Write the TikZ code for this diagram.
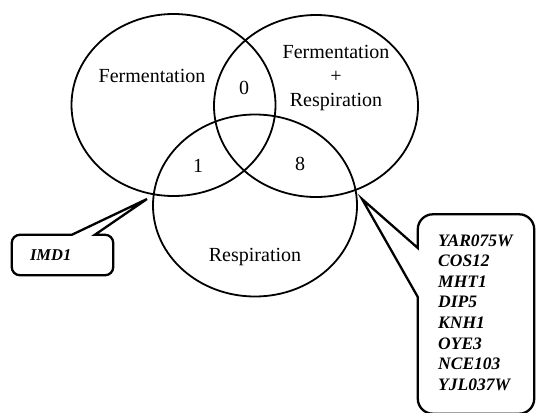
\documentclass[tikz,border=0pt]{standalone}
\usepackage{fontspec}
\setmainfont{Liberation Serif}
\usetikzlibrary{shapes,positioning,calc}

\begin{document}
\begin{tikzpicture}[x=1pt,y=-1pt,every node/.append style={inner sep=0pt}]
    \tikzstyle{set}=[ellipse, draw=black, line width=1.8pt, minimum width=204pt, minimum height=182pt]
    \tikzstyle{lab}=[font=\fontsize{20}{24}\selectfont]
    \tikzstyle{gene}=[font=\fontsize{16.5}{20}\selectfont\bfseries\itshape]
    \tikzstyle{box}=[minimum width=101pt, minimum height=40pt]
    \tikzstyle{bubble}=[draw=black, line width=2.3pt, line join=miter]
    \useasboundingbox (0,0) rectangle (537,412);
    % the three sets
    \node[set] (ferm) at (173.5,105) {};
    \node[set] (both) at (316,106) {};
    \node[set] (resp) at (255,205.5) {};
    \node[lab] (fermlab) at (152,76) {Fermentation};
    \node[lab, align=center] (bothlab) at (336,78) {Fermentation\\+\\Respiration};
    \node[lab] (resplab) at (255,257) {Respiration};
    \node[lab] (n0) at (244,88) {0};
    \node[lab] (n1) at (198,166) {1};
    \node[lab] (n8) at (300,164) {8};
    % callouts
    \coordinate (imdtip) at (147,199);
    \node[box] (imdbox) at (62.5,255) {};
    \node[gene, right=18pt of imdbox.west] (imd) {IMD1};
    \draw[bubble] (imdtip) -- ($(imdbox.north west)+(83,0)$) [rounded corners=8pt] -- (imdbox.north east) -- (imdbox.south east) -- (imdbox.south west) -- (imdbox.north west) [sharp corners] -- ($(imdbox.north west)+(60,0)$) -- cycle;
    \coordinate (genetip) at (362,199);
    \node[box, minimum width=116pt, minimum height=199pt] (genebox) at (476,314) {};
    \draw[bubble] (genetip) -- ($(genebox.west)+(0,-17)$) [rounded corners=15pt] -- (genebox.south west) -- (genebox.south east) -- (genebox.north east) -- (genebox.north west) [sharp corners] -- ($(genebox.west)+(0,-66)$) -- cycle;
    \foreach \i/\g in {0/YAR075W,1/COS12,2/MHT1,3/DIP5,4/KNH1,5/OYE3,6/NCE103,7/YJL037W} {
        \node[gene, font=\fontsize{17.5}{20}\selectfont\bfseries\itshape, anchor=base west] (g\i) at (438,246+20.6*\i) {\g};
    }
\end{tikzpicture}
\end{document}
